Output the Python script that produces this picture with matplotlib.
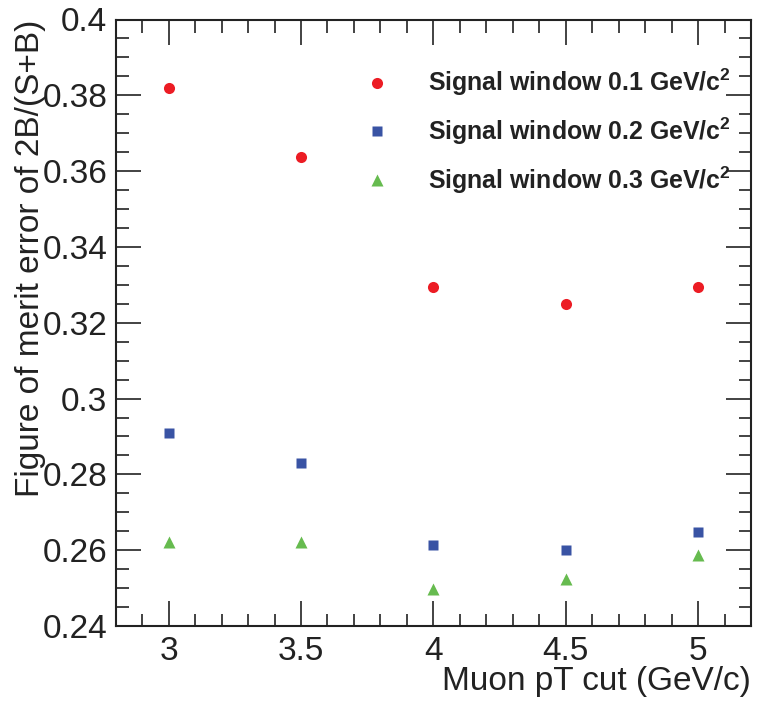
import matplotlib
matplotlib.use("Agg")
import matplotlib.pyplot as plt
from matplotlib.ticker import MultipleLocator, FuncFormatter

pt_cut = [3.0, 3.5, 4.0, 4.5, 5.0]
win01 = [0.3820, 0.3637, 0.3294, 0.3250, 0.3294]
win02 = [0.2909, 0.2830, 0.2614, 0.2601, 0.2648]
win03 = [0.2622, 0.2622, 0.2497, 0.2523, 0.2587]
labels = [r"Signal window 0.1 GeV/c$^{\mathbf{2}}$",
          r"Signal window 0.2 GeV/c$^{\mathbf{2}}$",
          r"Signal window 0.3 GeV/c$^{\mathbf{2}}$"]

plt.rcParams['font.family'] = ['Liberation Sans', 'DejaVu Sans']
plt.rcParams['mathtext.fontset'] = 'custom'
plt.rcParams['mathtext.rm'] = 'Liberation Sans'
plt.rcParams['mathtext.bf'] = 'Liberation Sans:bold'

fig = plt.figure(figsize=(7.57, 7.05), dpi=100)
ax = fig.add_axes([115.7/757, 1-626/705, (751-115.7)/757, (626-19.5)/705])

ax.plot(pt_cut, win01, 'o', color='#ec1c24', ms=8, mec='none', label=labels[0])
ax.plot(pt_cut, win02, 's', color='#3953a4', ms=7.5, mec='none', label=labels[1])
ax.plot(pt_cut, win03, '^', color='#66bb4f', ms=8, mec='none', label=labels[2])

ax.set_xlim(2.8, 5.2)
ax.set_ylim(0.24, 0.40)
ax.xaxis.set_major_locator(MultipleLocator(0.5))
ax.xaxis.set_minor_locator(MultipleLocator(0.1))
ax.yaxis.set_major_locator(MultipleLocator(0.02))
ax.yaxis.set_minor_locator(MultipleLocator(0.005))
ax.xaxis.set_major_formatter(FuncFormatter(lambda v, p: f"{v:g}"))
ax.yaxis.set_major_formatter(FuncFormatter(lambda v, p: f"{round(v, 3):g}"))

ax.tick_params(which='both', direction='in', top=True, right=True,
               labelsize=24, color='#222222', width=1.2, labelcolor='#222222')
ax.tick_params(which='major', length=18)
ax.tick_params(which='minor', length=9)
ax.tick_params(axis='y', pad=6)
ax.tick_params(axis='x', pad=7.5)
for s in ax.spines.values():
    s.set_linewidth(1.5)
    s.set_color('#222222')

ax.set_xlabel("Muon pT cut (GeV/c)", fontsize=24, loc='right', labelpad=-1, color='#222222')
ax.set_ylabel("Figure of merit error of 2B/(S+B)", fontsize=24, loc='top', color='#222222')
ax.yaxis.set_label_coords((46 - 115.7) / 635.3, 1.0)

leg = ax.legend(loc='upper left', bbox_to_anchor=(0.392, 0.922), frameon=False,
                prop={'weight': 'bold', 'size': 17.9}, handletextpad=1.55,
                labelspacing=0.7, handlelength=1.0, borderaxespad=0, borderpad=0)
for t in leg.get_texts():
    t.set_color('#222222')

fig.savefig("out.png", dpi=100)
